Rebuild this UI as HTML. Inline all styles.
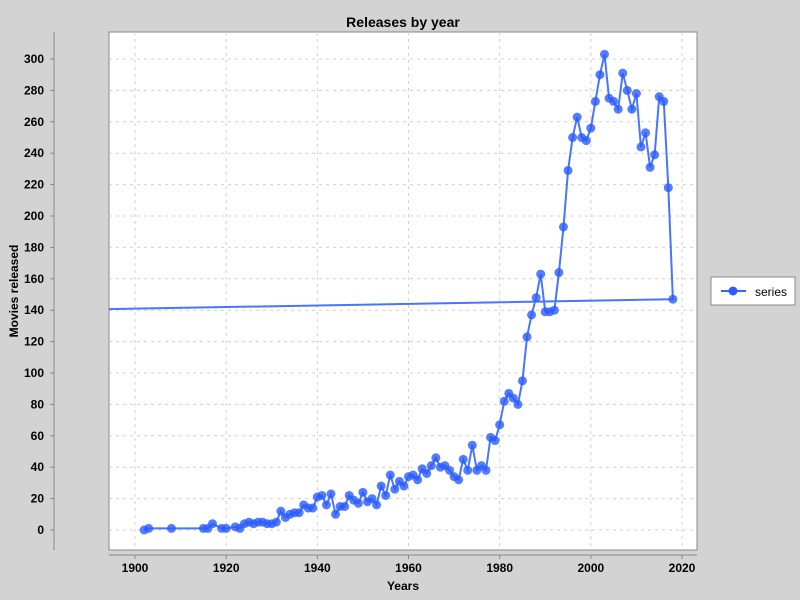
<!DOCTYPE html>
<html><head><meta charset="utf-8"><style>
body{margin:0;background:#d3d3d3;}
svg{display:block;font-family:"Liberation Sans",sans-serif;}
</style></head><body>
<svg id="c" width="800" height="600">
<rect width="800" height="600" fill="#d3d3d3"/>
<text x="403" y="27" text-anchor="middle" font-size="14" font-weight="bold" fill="#000">Releases by year</text>
<rect x="109" y="32" width="588" height="518" fill="#fff" stroke="#888"/>
<g id="grid"></g>
<g id="axes"></g>
<clipPath id="clip"><rect x="109" y="32" width="588" height="518"/></clipPath>
<g id="series" clip-path="url(#clip)"></g>
<text x="403" y="590" text-anchor="middle" font-size="12" font-weight="bold">Years</text>
<text transform="translate(18,291) rotate(-90)" text-anchor="middle" font-size="12" font-weight="bold">Movies released</text>
<g>
<rect x="711" y="277" width="84" height="28" fill="#fff" stroke="#888"/>
<line x1="721" y1="291" x2="746" y2="291" stroke="#3366ff" stroke-width="2"/>
<circle cx="733" cy="291" r="4.5" fill="#2a5cff"/>
<text x="755" y="296" font-size="12">series</text>
</g>
</svg>
<script>
const years=[1902,1903,1908,1915,1916,1917,1919,1920,1922,1923,1924,1925,1926,1927,1928,1929,1930,1931,1932,1933,1934,1935,1936,1937,1938,1939,1940,1941,1942,1943,1944,1945,1946,1947,1948,1949,1950,1951,1952,1953,1954,1955,1956,1957,1958,1959,1960,1961,1962,1963,1964,1965,1966,1967,1968,1969,1970,1971,1972,1973,1974,1975,1976,1977,1978,1979,1980,1981,1982,1983,1984,1985,1986,1987,1988,1989,1990,1991,1992,1993,1994,1995,1996,1997,1998,1999,2000,2001,2002,2003,2004,2005,2006,2007,2008,2009,2010,2011,2012,2013,2014,2015,2016,2017,2018,0];
const counts=[0,1,1,1,1,4,1,1,2,1,4,5,4,5,5,4,4,5,12,8,10,11,11,16,14,14,21,22,16,23,10,15,15,22,19,17,24,18,20,16,28,22,35,26,31,28,34,35,32,39,36,41,46,40,41,38,34,32,45,38,54,38,41,38,59,57,67,82,87,84,80,95,123,137,148,163,139,139,140,164,193,229,250,263,250,248,256,273,290,303,275,273,268,291,280,268,278,244,253,231,239,276,273,218,147,44];
const xTicks=[1900,1920,1940,1960,1980,2000,2020];
const yTicks=[0,20,40,60,80,100,120,140,160,180,200,220,240,260,280,300];
const NS='http://www.w3.org/2000/svg';
const X=v=>135+(v-1900)*(682-135)/120;
const Y=v=>530-v*(530-59)/300;
function mk(t,a,p){const e=document.createElementNS(NS,t);for(const k in a)e.setAttribute(k,a[k]);p.appendChild(e);return e;}
const grid=document.getElementById('grid'),axes=document.getElementById('axes'),ser=document.getElementById('series');
mk('line',{x1:54,y1:32,x2:54,y2:550,stroke:'#888'},axes);
mk('line',{x1:109,y1:555,x2:697,y2:555,stroke:'#888'},axes);
xTicks.forEach(t=>{
 const g=mk('line',{x1:X(t),y1:32,x2:X(t),y2:550,stroke:'#d0d0d0','stroke-dasharray':'3,4'},grid);
 
 mk('line',{x1:X(t),y1:555,x2:X(t),y2:559,stroke:'#888'},axes);
 const l=mk('text',{x:X(t),y:572,'text-anchor':'middle','font-size':12,'font-weight':'bold'},axes);l.textContent=t;
 
});
yTicks.forEach(t=>{
 const g=mk('line',{x1:109,y1:Y(t),x2:697,y2:Y(t),stroke:'#d0d0d0','stroke-dasharray':'3,4'},grid);
 
 mk('line',{x1:50,y1:Y(t),x2:54,y2:Y(t),stroke:'#888'},axes);
 const l=mk('text',{x:44,y:Y(t)+4,'text-anchor':'end','font-size':12,'font-weight':'bold'},axes);l.textContent=t;
 
});
const pts=years.map((y,i)=>X(y)+','+Y(counts[i])).join(' ');
const pl=mk('polyline',{points:pts,fill:'none',stroke:'#3366ff','stroke-width':2,'stroke-opacity':0.9},ser);

years.forEach((y,i)=>{
 const c=mk('circle',{cx:X(y),cy:Y(counts[i]),r:4.5,fill:'#2a5cff','fill-opacity':0.8},ser);
 
});
</script>
</body></html>
